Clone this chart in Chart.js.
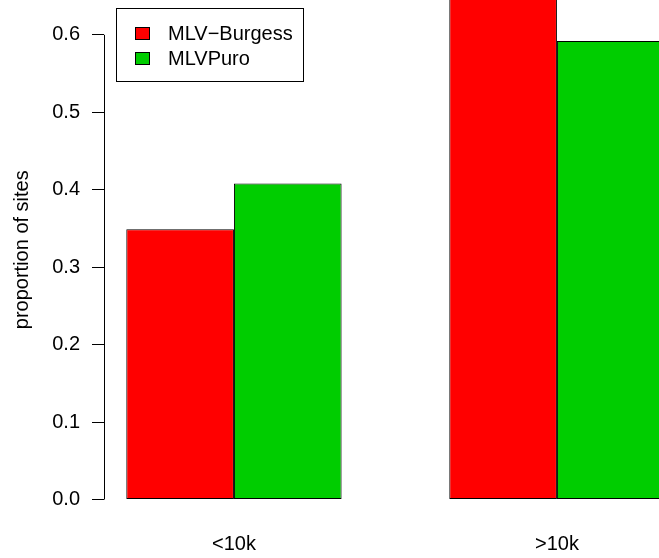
<!DOCTYPE html>
<html>
<head>
<meta charset="utf-8">
<script src="https://cdn.jsdelivr.net/npm/chart.js@4/dist/chart.umd.min.js"></script>
<style>
  html, body { margin: 0; padding: 0; background: #fff; overflow: hidden; }
  #wrap { width: 659px; height: 558px; }
</style>
</head>
<body>
<div id="wrap"><canvas id="barChart" width="659" height="558"></canvas></div>
<script>
const categories = ['<10k', '>10k'];
const seriesNames = ['MLV\u2212Burgess', 'MLVPuro'];
const burgessValues = [0.349, 0.651];
const puroValues = [0.408, 0.592];
const yTicks = [0.0, 0.1, 0.2, 0.3, 0.4, 0.5, 0.6];

const FONT = '"Liberation Sans", Arial, Helvetica, sans-serif';

// group centre in bar units (R barplot beside=TRUE, space=c(0,1))
function groupPos(i) {
    return i * 3 + 2;
}

// y axis line only spans the tick range, like base R
const rAxisLine = {
    id: 'rAxisLine',
    afterDraw(chart) {
        const y = chart.scales.y;
        const ctx = chart.ctx;
        const x = Math.round(y.right) + 0.5;
        ctx.save();
        ctx.strokeStyle = '#000';
        ctx.lineWidth = 1;
        ctx.beginPath();
        ctx.moveTo(x, y.getPixelForValue(yTicks[0]));
        ctx.lineTo(x, y.getPixelForValue(yTicks[yTicks.length - 1]));
        ctx.stroke();
        ctx.restore();
    }
};

// boxed legend in the top left corner
const boxLegend = {
    id: 'boxLegend',
    afterDraw(chart) {
        const ctx = chart.ctx;
        ctx.save();
        ctx.fillStyle = '#fff';
        ctx.fillRect(117, 9, 187, 73);
        ctx.strokeStyle = '#000';
        ctx.lineWidth = 1;
        ctx.strokeRect(116.5, 8.5, 187, 73);
        ctx.font = '20px ' + FONT;
        ctx.textBaseline = 'middle';
        chart.data.datasets.forEach((ds, i) => {
            const cy = 33 + i * 25;
            ctx.fillStyle = ds.backgroundColor;
            ctx.fillRect(135, cy - 6, 15, 13);
            ctx.strokeStyle = '#000';
            ctx.strokeRect(135.5, cy - 5.5, 14, 12);
            ctx.fillStyle = '#000';
            ctx.fillText(ds.label, 168, cy + 1);
        });
        ctx.restore();
    }
};

const ctx = document.getElementById('barChart').getContext('2d');
const barChart = new Chart(ctx, {
    type: 'bar',
    data: {
        datasets: [{
            label: seriesNames[0],
            data: burgessValues.map((v, i) => ({ x: groupPos(i), y: v })),
            backgroundColor: '#FF0000',
            borderColor: '#000',
            borderWidth: 1,
            borderSkipped: false
        }, {
            label: seriesNames[1],
            data: puroValues.map((v, i) => ({ x: groupPos(i), y: v })),
            backgroundColor: '#00CD00',
            borderColor: '#000',
            borderWidth: 1,
            borderSkipped: false
        }]
    },
    options: {
        responsive: false,
        animation: false,
        devicePixelRatio: 1,
        categoryPercentage: 2 / 3,
        barPercentage: 1,
        layout: { padding: 0 },
        plugins: {
            legend: { display: false },
            tooltip: { enabled: false }
        },
        scales: {
            x: {
                type: 'linear',
                offset: false,
                min: 0.793,
                max: 5.948,
                grid: { display: false, drawTicks: false },
                border: { display: false },
                afterBuildTicks: (scale) => {
                    scale.ticks = categories.map((c, i) => ({ value: groupPos(i) }));
                },
                ticks: {
                    padding: 33,
                    color: '#000',
                    font: { family: FONT, size: 20 },
                    maxRotation: 0,
                    autoSkip: false,
                    callback: (value, index) => categories[index]
                },
                afterFit: (scale) => {
                    scale.height = 58.5;
                    scale.paddingLeft = 0;
                    scale.paddingRight = 0;
                }
            },
            y: {
                min: 0,
                max: 0.645,
                grid: {
                    drawOnChartArea: false,
                    drawTicks: true,
                    tickLength: 12,
                    color: '#000'
                },
                border: { display: false },
                ticks: {
                    stepSize: 0.1,
                    includeBounds: false,
                    padding: 12,
                    color: '#000',
                    font: { family: FONT, size: 20 },
                    callback: (v) => v.toFixed(1)
                },
                title: {
                    display: true,
                    text: 'proportion of sites',
                    color: '#000',
                    font: { family: FONT, size: 20 },
                    padding: { top: 10, bottom: 0 }
                },
                afterFit: (scale) => {
                    scale.width = 104;
                    scale.paddingTop = 0;
                    scale.paddingBottom = 0;
                }
            }
        }
    },
    plugins: [rAxisLine, boxLegend]
});
</script>
</body>
</html>
